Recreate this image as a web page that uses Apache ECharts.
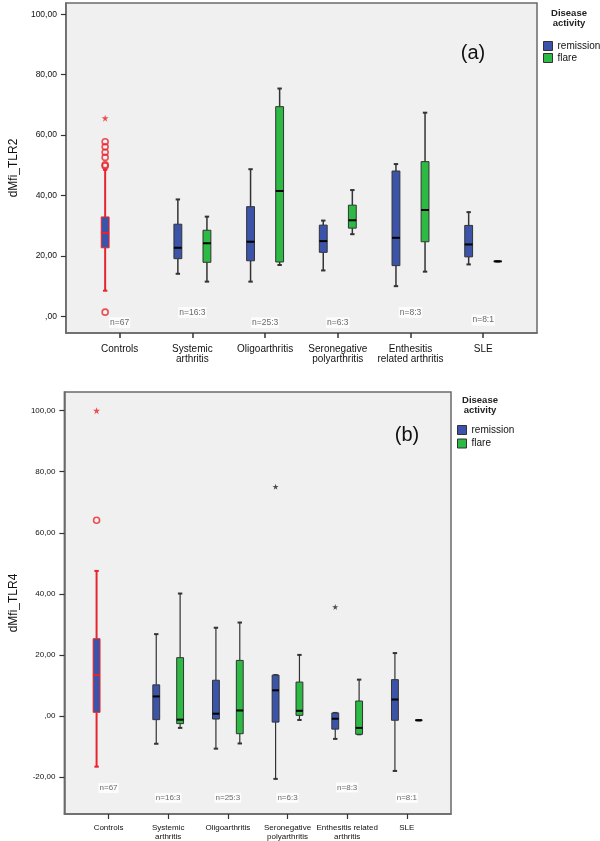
<!DOCTYPE html>
<html>
<head>
<meta charset="utf-8">
<script src="https://cdn.jsdelivr.net/npm/echarts@6/dist/echarts.min.js"></script>
<style>html,body{margin:0;padding:0;background:#fff}#c{width:600px;height:841px}</style>
</head>
<body>
<div id="c"></div>
<script>
// ---------- DATA ----------
const categoriesA = ['Controls', 'Systemic\narthritis', 'Oligoarthritis', 'Seronegative\npolyarthritis', 'Enthesitis\nrelated arthritis', 'SLE'];
const categoriesB = ['Controls', 'Systemic\narthritis', 'Oligoarthritis', 'Seronegative\npolyarthritis', 'Enthesitis related\narthritis', 'SLE'];
const yTicksA = [0, 20, 40, 60, 80, 100];
const yTicksB = [-20, 0, 20, 40, 60, 80, 100];
const nLabelsA = ['n=67', 'n=16:3', 'n=25:3', 'n=6:3', 'n=8:3', 'n=8:1'];
const nLabelsB = ['n=67', 'n=16:3', 'n=25:3', 'n=6:3', 'n=8:3', 'n=8:1'];

// box stats: [low whisker, Q1, median, Q3, high whisker]
const controlsA = [8.5, 22.7, 27.6, 32.9, 48.5];
const controlsCirclesA = [57.8, 56.1, 54.3, 52.6, 50.2, 49.8, 1.4];
const controlsStarsA = [65.6];
// groups 1..5: Systemic, Oligo, Seronegative, Enthesitis, SLE
const remissionA = [
  [14.1, 19.1, 22.7, 30.5, 38.7],
  [11.5, 18.4, 24.7, 36.3, 48.7],
  [15.2, 21.2, 24.9, 30.2, 31.7],
  [10.0, 16.8, 26.0, 48.1, 50.4],
  [17.2, 19.7, 23.8, 30.1, 34.5]
];
const flareA = [
  [11.5, 17.9, 24.2, 28.5, 33.0],
  [17.0, 18.0, 41.5, 69.4, 75.4],
  [27.2, 29.2, 31.8, 36.8, 41.8],
  [14.8, 24.7, 35.2, 51.2, 67.4],
  [18.2, 18.2, 18.2, 18.2, 18.2]
];

const controlsB = [-16.6, 1.2, 13.4, 25.3, 47.5];
const controlsCirclesB = [64.1];
const controlsStarsB = [100];
const remissionB = [
  [-9.1, -1.2, 6.4, 10.2, 26.8],
  [-10.7, -1.0, 0.75, 11.7, 28.9],
  [-20.6, -2.0, 8.4, 13.4, 13.4],
  [-7.5, -4.3, -0.9, 1.0, 1.0],
  [-18.0, -1.4, 5.4, 11.9, 20.6]
];
const flareB = [
  [-3.9, -2.5, -1.2, 19.1, 40.1],
  [-9.0, -5.8, 1.8, 18.2, 30.6],
  [-1.3, 0.2, 1.7, 11.1, 20.0],
  [-6.0, -6.0, -3.9, 4.9, 11.9],
  [-1.4, -1.4, -1.4, -1.4, -1.4]
];
// remission extreme outliers (group index 1..5, value)
const remissionStarsB = [[3, 75.1], [4, 35.7]];

// ---------- LAYOUT / STYLE ----------
const nLabelYA = [-2.1, 1.3, -2.1, -2.1, 1.3, -1.2];
const nLabelYB = [-23.6, -26.8, -26.8, -26.8, -23.4, -26.8];
const OFF_REM = -0.2, OFF_FLARE = 0.2;
const BLUE = '#3B54A9', GREEN = '#2DBA44', RED = '#E8242C', DARK = '#333333';
const FONT = 'Liberation Sans, Arial, sans-serif';

const fmt = v => v === 0 ? ',00' : v.toFixed(2).replace('.', ',');

function boxRenderer(fill, stroke, whisk, medC, whiskW, fracW) {
  return function (params, api) {
    const x = api.value(0);
    const lo = api.coord([x, api.value(1)]);
    const q1 = api.coord([x, api.value(2)]);
    const md = api.coord([x, api.value(3)]);
    const q3 = api.coord([x, api.value(4)]);
    const hi = api.coord([x, api.value(5)]);
    const band = api.size([1, 0])[0];
    const w = band * fracW;
    const cx = md[0];
    const cap = 2.2;
    const children = [
      {type: 'line', shape: {x1: cx, y1: hi[1], x2: cx, y2: q3[1]}, style: {stroke: whisk, lineWidth: whiskW}},
      {type: 'line', shape: {x1: cx, y1: q1[1], x2: cx, y2: lo[1]}, style: {stroke: whisk, lineWidth: whiskW}},
      {type: 'line', shape: {x1: cx - cap, y1: hi[1], x2: cx + cap, y2: hi[1]}, style: {stroke: whisk, lineWidth: 2}},
      {type: 'line', shape: {x1: cx - cap, y1: lo[1], x2: cx + cap, y2: lo[1]}, style: {stroke: whisk, lineWidth: 2}},
      {type: 'rect', shape: {x: cx - w / 2, y: q3[1], width: w, height: q1[1] - q3[1]}, style: {fill: fill, stroke: stroke, lineWidth: 1}},
      {type: 'line', shape: {x1: cx - w / 2, y1: md[1], x2: cx + w / 2, y2: md[1]}, style: {stroke: medC, lineWidth: 2}}
    ];
    return {type: 'group', children: children};
  };
}

function boxData(arr, offset, startIdx) {
  return arr.map((s, i) => [startIdx + i + offset].concat(s));
}

const STAR = 'path://M50,0 L61,35 L98,35 L68,57 L79,91 L50,70 L21,91 L32,57 L2,35 L39,35 Z';

function makeSeries(gi, cats, ctrl, circ, stars, rem, fl, nLab, nY, remStars, whiskW, fracW, nFont) {
  const s = [];
  s.push({
    type: 'custom', name: 'Controls', xAxisIndex: gi, yAxisIndex: gi,
    renderItem: boxRenderer(BLUE, RED, RED, RED, 2, fracW),
    encode: {x: 0, y: [1, 2, 3, 4, 5]},
    data: [[0 + OFF_REM].concat(ctrl)], silent: true, z: 3
  });
  s.push({
    type: 'custom', name: 'remission', xAxisIndex: gi, yAxisIndex: gi,
    itemStyle: {color: BLUE, borderColor: DARK},
    renderItem: boxRenderer(BLUE, DARK, DARK, '#000', whiskW, fracW),
    encode: {x: 0, y: [1, 2, 3, 4, 5]},
    data: boxData(rem, OFF_REM, 1), silent: true, z: 3
  });
  s.push({
    type: 'custom', name: 'flare', xAxisIndex: gi, yAxisIndex: gi,
    itemStyle: {color: GREEN, borderColor: DARK},
    renderItem: boxRenderer(GREEN, DARK, DARK, '#000', whiskW, fracW),
    encode: {x: 0, y: [1, 2, 3, 4, 5]},
    data: boxData(fl, OFF_FLARE, 1), silent: true, z: 3
  });
  s.push({
    type: 'scatter', name: 'ctrlCircles', xAxisIndex: gi, yAxisIndex: gi,
    symbol: 'circle', symbolSize: 6,
    itemStyle: {color: 'rgba(0,0,0,0)', borderColor: RED, borderWidth: 1.6},
    data: circ.map(v => [0 + OFF_REM, v]), silent: true, z: 4
  });
  s.push({
    type: 'scatter', name: 'ctrlStars', xAxisIndex: gi, yAxisIndex: gi,
    symbol: STAR, symbolSize: 7,
    itemStyle: {color: RED},
    data: stars.map(v => [0 + OFF_REM, v]), silent: true, z: 4
  });
  if (remStars) {
    s.push({
      type: 'scatter', name: 'remStars', xAxisIndex: gi, yAxisIndex: gi,
      symbol: STAR, symbolSize: 6,
      itemStyle: {color: '#222'},
      data: remStars.map(p => [p[0] + OFF_REM, p[1]]), silent: true, z: 4
    });
  }
  s.push({
    type: 'scatter', name: 'nLabels', xAxisIndex: gi, yAxisIndex: gi,
    symbolSize: 0,
    label: {
      show: true, position: 'inside',
      formatter: p => nLab[p.dataIndex],
      fontFamily: FONT, fontSize: nFont, color: '#444',
      backgroundColor: '#ffffff', padding: [1, 1]
    },
    data: nLab.map((t, i) => [i, nY[i]]), silent: true, z: 5
  });
  return s;
}

const chart = echarts.init(document.getElementById('c'), null, {renderer: 'canvas'});

const option = {
  animation: false,
  backgroundColor: '#ffffff',
  grid: [
    {left: 56, top: 3, width: 481, height: 330, show: true, backgroundColor: '#F0F0F0', borderColor: '#6a6a6a', borderWidth: 1.5},
    {left: 56, top: 392, width: 395, height: 422, show: true, backgroundColor: '#F0F0F0', borderColor: '#6a6a6a', borderWidth: 1.5}
  ],
  xAxis: [
    {
      type: 'value', gridIndex: 0, min: -0.74, max: 5.74,
      axisLine: {show: true, onZero: false, lineStyle: {color: '#6a6a6a', width: 1.5}},
      axisTick: {show: true, length: 5, customValues: [0, 1, 2, 3, 4, 5], lineStyle: {color: '#333', width: 1.5}},
      axisLabel: {customValues: [0, 1, 2, 3, 4, 5], formatter: v => categoriesA[Math.round(v)],
        fontFamily: FONT, fontSize: 10, lineHeight: 10, color: '#111', margin: 11},
      splitLine: {show: false}
    },
    {
      type: 'value', gridIndex: 1, min: -0.74, max: 5.74,
      axisLine: {show: true, onZero: false, lineStyle: {color: '#6a6a6a', width: 1.5}},
      axisTick: {show: true, length: 5, customValues: [0, 1, 2, 3, 4, 5], lineStyle: {color: '#333', width: 1.2}},
      axisLabel: {customValues: [0, 1, 2, 3, 4, 5], formatter: v => categoriesB[Math.round(v)],
        fontFamily: FONT, fontSize: 8, lineHeight: 9, color: '#111', margin: 9},
      splitLine: {show: false}
    }
  ],
  yAxis: [
    {
      type: 'value', gridIndex: 0, min: -5.5, max: 103.7,
      name: 'dMfi_TLR2', nameLocation: 'middle', nameGap: 40,
      nameTextStyle: {fontFamily: FONT, fontSize: 12, color: '#111'},
      axisLine: {show: true, onZero: false, lineStyle: {color: '#6a6a6a', width: 1.5}},
      axisTick: {show: true, length: 5, customValues: yTicksA, lineStyle: {color: '#333', width: 1.2}},
      axisLabel: {customValues: yTicksA, formatter: fmt, fontFamily: FONT, fontSize: 8.5, color: '#111', margin: 9},
      splitLine: {show: false}
    },
    {
      type: 'value', gridIndex: 1, min: -32.1, max: 106.1,
      name: 'dMfi_TLR4', nameLocation: 'middle', nameGap: 40,
      nameTextStyle: {fontFamily: FONT, fontSize: 12, color: '#111'},
      axisLine: {show: true, onZero: false, lineStyle: {color: '#6a6a6a', width: 1.5}},
      axisTick: {show: true, length: 5, customValues: yTicksB, lineStyle: {color: '#333', width: 1.2}},
      axisLabel: {customValues: yTicksB, formatter: fmt, fontFamily: FONT, fontSize: 8, color: '#111', margin: 9},
      splitLine: {show: false}
    }
  ],
  legend: [
    {
      orient: 'vertical', left: 538, top: 36, itemWidth: 9, itemHeight: 9, itemGap: 2, icon: 'rect',
      itemStyle: {borderColor: DARK, borderWidth: 1},
      textStyle: {fontFamily: FONT, fontSize: 10, color: '#111'},
      data: ['remission', 'flare'], selectedMode: false
    },
    {
      orient: 'vertical', left: 452, top: 420, itemWidth: 9, itemHeight: 9, itemGap: 3.5, icon: 'rect',
      itemStyle: {borderColor: DARK, borderWidth: 1},
      textStyle: {fontFamily: FONT, fontSize: 10, color: '#111'},
      data: ['remission', 'flare'], selectedMode: false
    }
  ],
  graphic: [
    {type: 'text', x: 569, y: 18, style: {text: 'Disease\nactivity', fontFamily: FONT, fontSize: 9.5, fontWeight: 'bold', lineHeight: 10, fill: '#222', align: 'center', verticalAlign: 'middle'}},
    {type: 'text', x: 480, y: 405, style: {text: 'Disease\nactivity', fontFamily: FONT, fontSize: 9.5, fontWeight: 'bold', lineHeight: 10, fill: '#222', align: 'center', verticalAlign: 'middle'}},
    {type: 'text', x: 473, y: 53, z: 10, style: {text: '(a)', fontFamily: FONT, fontSize: 20, fill: '#111', align: 'center', verticalAlign: 'middle'}},
    {type: 'text', x: 407, y: 435, z: 10, style: {text: '(b)', fontFamily: FONT, fontSize: 20, fill: '#111', align: 'center', verticalAlign: 'middle'}}
  ],
  series: [].concat(
    makeSeries(0, categoriesA, controlsA, controlsCirclesA, controlsStarsA, remissionA, flareA, nLabelsA, nLabelYA, null, 1.5, 0.108, 8.5),
    makeSeries(1, categoriesB, controlsB, controlsCirclesB, controlsStarsB, remissionB, flareB, nLabelsB, nLabelYB, remissionStarsB, 1.2, 0.115, 8)
  )
};
chart.setOption(option);
</script>
</body>
</html>
